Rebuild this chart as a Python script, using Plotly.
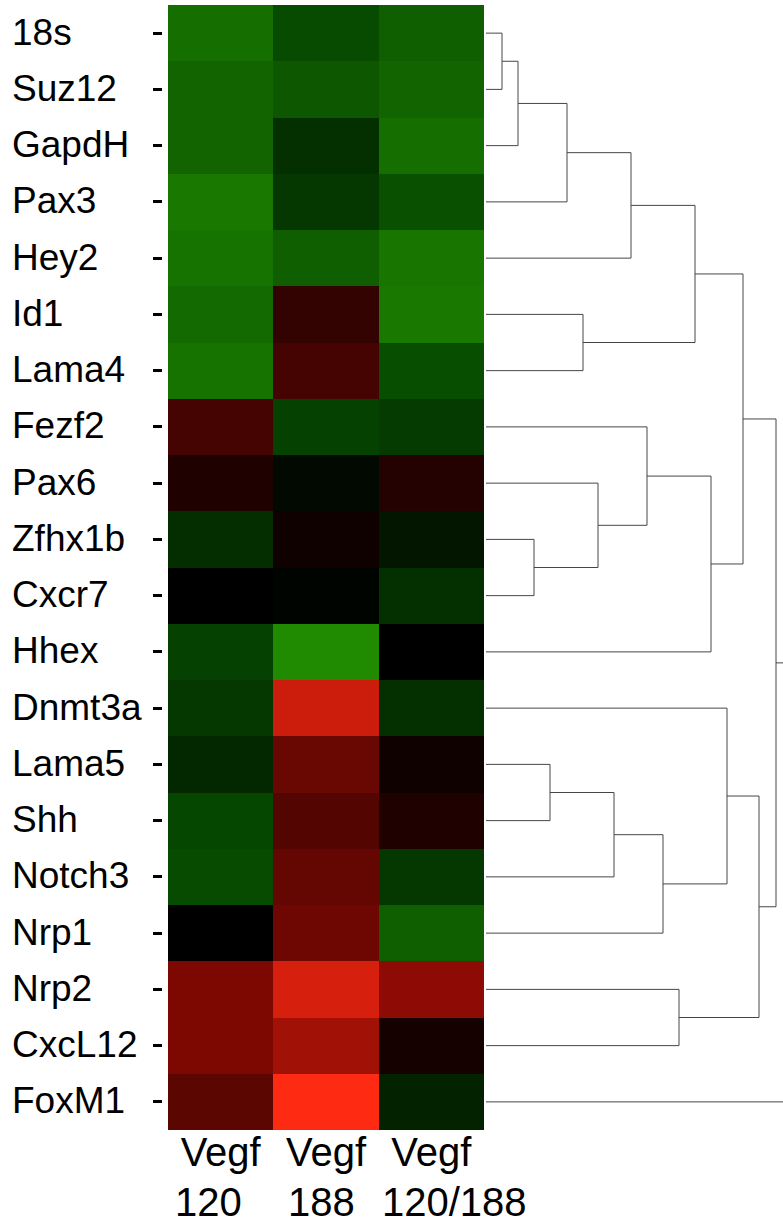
import plotly.graph_objects as go

# Genes (top to bottom) and samples
genes = ["18s", "Suz12", "GapdH", "Pax3", "Hey2", "Id1", "Lama4", "Fezf2", "Pax6",
         "Zfhx1b", "Cxcr7", "Hhex", "Dnmt3a", "Lama5", "Shh", "Notch3", "Nrp1",
         "Nrp2", "CxcL12", "FoxM1"]
sample_gene = ["Vegf", "Vegf", "Vegf"]
sample_isoform = ["120", "188", "120/188"]

# Relative expression (negative = green, positive = red)
vegf120 = [-0.77, -0.70, -0.70, -0.84, -0.81, -0.74, -0.81, 0.27, 0.12, -0.31,
           0.00, -0.45, -0.38, -0.28, -0.49, -0.52, 0.00, 0.49, 0.49, 0.36]
vegf188 = [-0.52, -0.61, -0.33, -0.38, -0.66, 0.20, 0.27, -0.45, -0.06, 0.06,
           -0.03, -0.97, 0.80, 0.41, 0.32, 0.39, 0.43, 0.84, 0.63, 1.00]
vegf120_188 = [-0.66, -0.70, -0.77, -0.56, -0.83, -0.84, -0.54, -0.40, 0.14, -0.15,
               -0.33, 0.00, -0.33, 0.06, 0.12, -0.38, -0.66, 0.55, 0.08, -0.24]

# Hierarchical clustering of genes: (left, right, height); ids >= 20 are merged clusters
merges = [
    (0, 1, 16), (20, 2, 32), (21, 3, 81), (22, 4, 145), (5, 6, 97), (23, 24, 209),
    (9, 10, 48), (8, 26, 112), (7, 27, 161), (28, 11, 225), (25, 29, 257),
    (13, 14, 64), (31, 15, 128), (32, 16, 177), (12, 33, 241), (17, 18, 193),
    (34, 35, 273), (30, 36, 290), (37, 19, 330),
]

n = len(genes)
z = [[vegf120[i], vegf188[i], vegf120_188[i]] for i in range(n)]

colorscale = [
    [0.0, "rgb(34,142,0)"],
    [0.25, "rgb(6,72,0)"],
    [0.5, "rgb(0,0,0)"],
    [0.75, "rgb(128,8,2)"],
    [1.0, "rgb(255,42,18)"],
]

fig = go.Figure()
fig.add_trace(go.Heatmap(
    z=z, x=[0, 1, 2], y=list(range(n)),
    zmin=-1, zmax=1, colorscale=colorscale, showscale=False,
    xaxis="x", yaxis="y", hoverinfo="skip",
))

# Dendrogram segments
pos = {i: (float(i), 0.0) for i in range(n)}
dx, dy = [], []
for k, (a, b, h) in enumerate(merges):
    ya, ha = pos[a]
    yb, hb = pos[b]
    dx += [ha, h, h, hb, None]
    dy += [ya, ya, yb, yb, None]
    pos[n + k] = ((ya + yb) / 2.0, h)

fig.add_trace(go.Scatter(
    x=dx, y=dy, mode="lines", xaxis="x2", yaxis="y",
    line=dict(color="rgb(70,70,70)", width=1), hoverinfo="skip", showlegend=False,
))

W, H = 783, 1224
font = "Liberation Sans, Arial, sans-serif"

# Gene names, left-aligned beside the rows
annotations = [
    dict(text=g, x=10 / W, xref="paper", xanchor="left", y=i, yref="y",
         yanchor="middle", yshift=1, showarrow=False,
         font=dict(family=font, size=37, color="black"))
    for i, g in enumerate(genes)
]
# Isoform line under each "Vegf" column label
iso_shift = [-12, -5, 23]
for j, iso in enumerate(sample_isoform):
    annotations.append(dict(
        text=iso, x=j, xref="x", xshift=iso_shift[j], xanchor="center",
        y=1 - 1202 / H, yref="paper", yanchor="middle", showarrow=False,
        font=dict(family=font, size=40, color="black"),
    ))

fig.update_layout(
    width=W, height=H,
    margin=dict(l=0, r=0, t=0, b=0, autoexpand=False),
    paper_bgcolor="white", plot_bgcolor="rgba(0,0,0,0)",
    showlegend=False,
    annotations=annotations,
    xaxis=dict(
        domain=[168 / W, 484 / W], anchor="y", range=[-0.5, 2.5],
        tickvals=[0, 1, 2], ticktext=sample_gene, ticks="", showgrid=False,
        zeroline=False, showline=False, tickangle=0, automargin=False,
        ticklabelstandoff=-5,
        tickfont=dict(family=font, size=40, color="black"),
    ),
    yaxis=dict(
        domain=[1 - 1130 / H, 1 - 5 / H], anchor="free", position=162 / W,
        range=[n - 0.5, -0.5], tickvals=list(range(n)), showticklabels=False,
        ticks="outside", ticklen=9, tickwidth=3, tickcolor="black",
        showgrid=False, zeroline=False, showline=False, automargin=False,
    ),
    xaxis2=dict(
        domain=[486 / W, 1.0], anchor="y", range=[0, 297],
        showticklabels=False, ticks="", showgrid=False, zeroline=False,
        showline=False, automargin=False,
    ),
)

fig.write_html("out.html")
